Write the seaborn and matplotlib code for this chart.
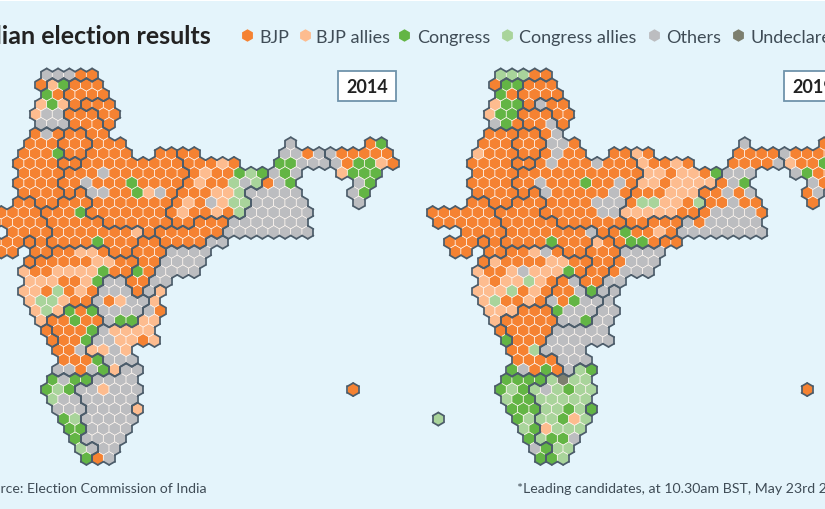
import pandas as pd
import seaborn as sns
import matplotlib.pyplot as plt
from matplotlib.collections import LineCollection
from matplotlib.lines import Line2D
from matplotlib.patches import Rectangle

sns.set_style("white")
plt.rcParams['font.family'] = ['Lato', 'DejaVu Sans']

# (row, first column, one letter per seat)
seats_2014 = [
    (0, 6, "GGGOO"), (1, 5, "OACOOO"), (2, 6, "COOOOO"), (3, 5, "ACAOOOO"),
    (4, 5, "AGGOOOOO"), (5, 5, "GGGOOOO"), (6, 5, "OGOOOOO"),
    (7, 4, "OOOOOOOOO"), (7, 27, "G"), (7, 34, "OC"),
    (8, 4, "OOOCOOOOOO"), (8, 16, "OOOO"), (8, 27, "GGOGGOOOOO"),
    (9, 3, "OOOOOOOOOOOOOOOOOOAO"), (9, 26, "CCGGGGOCCAO"),
    (10, 4, "OOOOOOOGOOOOOOOOAOOCLCGCG"), (10, 32, "ACCC"),
    (11, 3, "OOOOOOGOOOCOOOOOAOOLGLOGC"), (11, 33, "GC"),
    (12, 4, "OOOOOOGGOOCAGOOOOAALGGGGG"), (12, 33, "GC"),
    (13, 3, "OOOOOOOOOOOOOOOAOGALLGGGGG"), (13, 33, "G"),
    (14, 0, "OOOOOOOOOCOOOOOOOOAOOAOLGGGGGG"),
    (15, 0, "OOOOOOOOOOOOOOOOOOOOOOGGGGGGG"),
    (16, 3, "OOOOOOOOOOOAOOOOOOOGGGGGGGG"),
    (17, 1, "OOOOOOOOOCOOOOOOOOOGG"),
    (18, 2, "OO"), (18, 5, "OOOOAAOOOOOOGGGG"),
    (19, 4, "OOOOOOAAOOOOGGGG"),
    (20, 4, "AOOAAAACOOCOGGGG"),
    (21, 4, "AAAOOACGGOOGG"),
    (22, 4, "AAOLOAOGGGOGA"),
    (23, 4, "ALLAOOGOAGGA"),
    (24, 5, "ALACOCGGGGGO"),
    (25, 5, "AOOCOOGCCAA"),
    (26, 6, "OOOOCGAAAA"),
    (27, 6, "OOOCGGAAOA"),
    (28, 7, "OOGAAGA"),
    (29, 7, "OOOCGGG"),
    (30, 7, "GGOGCAGG"),
    (31, 6, "CGCCGGGG"),
    (32, 6, "CLCGGAGGG"), (32, 33, "O"),
    (33, 6, "LGGGGGGG"),
    (34, 7, "GGGGGGGA"),
    (35, 0, "O"), (35, 7, "CLGGGGG"),
    (36, 8, "CCGGGG"),
    (37, 8, "CGGGG"),
    (38, 9, "LGGG"),
    (39, 9, "COG"),
]

seats_2019 = [
    (0, 6, "LLLOO"), (1, 5, "OCCOOO"), (2, 6, "COOOOO"), (3, 5, "ACCOGOO"),
    (4, 5, "ACCOOOOO"), (5, 5, "GCOOOGO"), (6, 5, "OOOOOOG"),
    (7, 4, "OOOOOOGGO"), (7, 27, "G"), (7, 34, "OO"),
    (8, 4, "AOOOOOOGOO"), (8, 16, "OOAO"), (8, 27, "OOOOGOOOOO"),
    (9, 3, "OOOOOOOGOOOGOOOAOOAO"), (9, 26, "OOOOGAOOCOO"),
    (10, 4, "OOOOOOOOOOOOOOOAAOAAOCGGG"), (10, 32, "GCOO"),
    (11, 3, "OOOOOOGOOOCOOGOAAOAAAAOGC"), (11, 33, "GO"),
    (12, 4, "OOOOOOGOOOOOGOOOOAAAOOGOG"), (12, 33, "OG"),
    (13, 3, "OOOOOOOOOOOGGGOLLAAOLOOGOO"), (13, 33, "O"),
    (14, 0, "OOOOOOOOOOOOOOOGGAAAAAOOOGGGGO"),
    (15, 0, "OOOOOOOOOOOOOOOOOOOOOOGOGGGGG"),
    (16, 3, "OOOOOOOOOOOGOOCOOAOGGGGGGGG"),
    (17, 1, "OOOOOOOOOCOOOAOOCCOOO"),
    (18, 2, "OO"), (18, 5, "OOOOAGOOOOOOGGGG"),
    (19, 4, "OAOOOOAAOOOOOGGG"),
    (20, 4, "AOOAGAAACOOOOGGG"),
    (21, 4, "AOAALAOOGOOGG"),
    (22, 4, "AAALOAOOOGCGG"),
    (23, 4, "ALOOAOGOCGGG"),
    (24, 5, "AAAOOOCGGGGG"),
    (25, 5, "AOOOOOGGCGG"),
    (26, 6, "OOOOOGGGGG"),
    (27, 6, "COOOGGGGGG"),
    (28, 7, "OOLGGGG"),
    (29, 7, "OOOOGGG"),
    (30, 7, "CGOCOGLC"),
    (31, 6, "CCCCLULL"),
    (32, 6, "CLCLGLCLL"), (32, 33, "O"),
    (33, 6, "LCCLLLLL"),
    (34, 7, "CCCLLCLC"),
    (35, 0, "L"), (35, 7, "CLLLCAL"),
    (36, 8, "LCALLL"),
    (37, 8, "CLCCG"),
    (38, 9, "GCLL"),
    (39, 9, "CCL"),
]

# same layout, one letter per state
states = [
    (0, 6, "JJJJJ"), (1, 5, "JPPHHH"), (2, 6, "PPHHHH"), (3, 5, "PPPHKKK"),
    (4, 5, "PPPUUUKK"), (5, 5, "PPPUUUK"), (6, 5, "RRRYYUU"),
    (7, 4, "RRRYYYUUU"), (7, 27, "W"), (7, 34, "EE"),
    (8, 4, "RRRRYYUUUU"), (8, 16, "UUBB"), (8, 27, "WWWWEEEEEE"),
    (9, 3, "RRRRDDUUUUUUUUUBBBBB"), (9, 26, "WWWWWEEEEEE"),
    (10, 4, "RRRRUUUUUUUUUUUBBBBBBBWWW"), (10, 32, "EEEE"),
    (11, 3, "RRRRUUUUUUUUUUUBBBBBBBWWW"), (11, 33, "EE"),
    (12, 4, "RRRRUMUUUUUUUUBBBBBBWWWWW"), (12, 33, "EE"),
    (13, 3, "GGRRMMMUUUUUUUBBBBBBBWWWWW"), (13, 33, "E"),
    (14, 0, "GGGGGGMMMMUUUUUUUBBBBBBBWWWWWW"),
    (15, 0, "GGGGGGMMMMMUUUUUUBBNNNWWWWWWW"),
    (16, 3, "GGGGMMMMMMMMUNNNNNNWWWWWWWW"),
    (17, 1, "GGGdGMMMMMMMMTTNNNNOO"),
    (18, 2, "GG"), (18, 5, "GGXXXXXMMTTTOOOO"),
    (19, 4, "eXXXXXXXXXTTOOOO"),
    (20, 4, "XXXXXXXXXXTTOOOO"),
    (21, 4, "XXXXXXXFFTTOO"),
    (22, 4, "XXXXXXXFFFTOA"),
    (23, 4, "XXXXXXFFFFFA"),
    (24, 5, "XXXQQQFFFFAA"),
    (25, 5, "XQQQQQFFFAA"),
    (26, 6, "gQQQQAAAAA"),
    (27, 6, "gQQQAAAAAA"),
    (28, 7, "QQQAAAA"),
    (29, 7, "QQQQAAA"),
    (30, 7, "QQQQQAZZ"),
    (31, 6, "LLLLZZZZ"),
    (32, 6, "LLLZZZZZZ"), (32, 33, "c"),
    (33, 6, "LLLZZZZZ"),
    (34, 7, "LLLZZZZp"),
    (35, 0, "i"), (35, 7, "LLZZZZZ"),
    (36, 8, "LLZZZZ"),
    (37, 8, "LZZZZ"),
    (38, 9, "LLZZ"),
    (39, 9, "LZZ"),
]

parties = ["BJP", "BJP allies", "Congress", "Congress allies", "Others", "Undeclared"]
party_codes = ["O", "A", "C", "L", "G", "U"]
party_colors = ["#f58232", "#fdbc8f", "#63b545", "#a9d49b", "#bcbdc0", "#7d7f6f"]
legend_marker_x = [247, 305, 404, 507, 654, 738]
legend_text_x = [259, 316, 417, 519, 666, 750]

bg = "#e4f4fb"
ink = "#3f4c56"
border = "#4b5c6a"
map_shift = 40  # 2019 map sits this many columns right of the 2014 one


def seat_table(segments, shift):
    rows = []
    for row, start, text in segments:
        for i, code in enumerate(text):
            rows.append({"col": start + i, "row": row,
                         "x": start + i + 0.5 * (row % 2) + shift,
                         "party": parties[party_codes.index(code)]})
    return pd.DataFrame(rows)


def border_lines(shift):
    lookup = {}
    for row, start, text in states:
        for i, code in enumerate(text):
            lookup[(2 * (start + i) + row % 2, row)] = code
    # neighbour step and the hexagon edge shared with it
    sides = [((2, 0), (0.5, -1 / 3), (0.5, 1 / 3)),
             ((-2, 0), (-0.5, -1 / 3), (-0.5, 1 / 3)),
             ((1, -1), (0, -2 / 3), (0.5, -1 / 3)),
             ((-1, -1), (0, -2 / 3), (-0.5, -1 / 3)),
             ((1, 1), (0, 2 / 3), (0.5, 1 / 3)),
             ((-1, 1), (0, 2 / 3), (-0.5, 1 / 3))]
    lines = []
    for (q, row), code in lookup.items():
        x = q / 2 + shift
        for (dq, dr), a, b in sides:
            if lookup.get((q + dq, row + dr)) != code:
                lines.append([(x + a[0], row + a[1]), (x + b[0], row + b[1])])
    return lines


fig = plt.figure(figsize=(8.25, 5.1), dpi=100, facecolor=bg)
ax = fig.add_axes([0, 0, 1, 1])
ax.set_facecolor(bg)

palette = dict(zip(parties, party_colors))
for segments, shift in [(seats_2014, 0), (seats_2019, map_shift)]:
    sns.scatterplot(data=seat_table(segments, shift), x="x", y="row", hue="party",
                    palette=palette, marker="h", s=94, edgecolor="#fdf6f0",
                    linewidth=0.55, legend=False, ax=ax, zorder=2)
    ax.add_collection(LineCollection(border_lines(shift), colors=border, linewidths=1.25,
                                     capstyle="round", zorder=3))

ax.set_xlim(1.885, 74.57)
ax.set_ylim(44.15, -7.73)
ax.axis("off")


def px(x, y):
    return x / 825, 1 - y / 510


fig.add_artist(Rectangle(px(0, 2), 1, 2 / 510, transform=fig.transFigure, color="white", lw=0))

fig.text(*px(211, 44), "Indian election results", ha="right", va="baseline",
         fontsize=18, fontweight="bold", color="#222222")

for name, color, mx, tx in zip(parties, party_colors, legend_marker_x, legend_text_x):
    fig.add_artist(Line2D(*zip(px(mx, 36)), marker="h", ms=9, color=color, mew=0,
                          transform=fig.transFigure))
    fig.text(*px(tx, 43), name, ha="left", va="baseline", fontsize=13, color=ink)

for year, left in [("2014", 338), ("2019", 784)]:
    fig.add_artist(Rectangle(px(left, 102), 58 / 825, 30 / 510, transform=fig.transFigure,
                             facecolor="white", edgecolor="#6f93ab", lw=1.3, zorder=5))
    fig.text(*px(left + 29, 93), year, ha="center", va="baseline", fontsize=13,
             fontweight="bold", color="#222222", zorder=6)

fig.text(*px(207, 493), "Source: Election Commission of India", ha="right", va="baseline",
         fontsize=10.2, color=ink)
fig.text(*px(517, 493), "*Leading candidates, at 10.30am BST, May 23rd 2019", ha="left",
         va="baseline", fontsize=10.2, color=ink)

fig.savefig("out.png", dpi=100, facecolor=bg)
